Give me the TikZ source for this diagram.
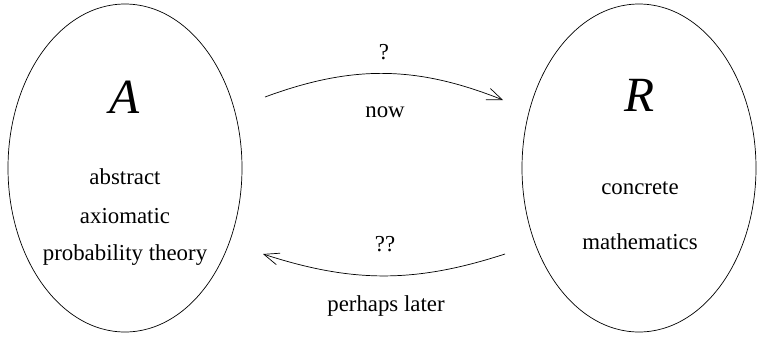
\documentclass[tikz,border=0pt]{standalone}
\usepackage{fontspec}
\setmainfont{Liberation Serif}
\usetikzlibrary{arrows.meta,shapes.geometric}

\tikzset{
    theory/.style={ellipse, draw, minimum width=4.68cm, minimum height=6.56cm, inner sep=0pt},
    letter/.style={font=\fontsize{28}{30}\selectfont\itshape},
    word/.style={font=\fontsize{13}{15}\selectfont},
    link/.style={-{Straight Barb[length=3mm,width=2.4mm]}, bend left=21}
}

\begin{document}
\begin{tikzpicture}[scale=1]
\useasboundingbox (0,0) rectangle (15.18,6.74);

% Ellipses
\node[theory] (A) at (2.5,3.38) {};
\node[theory] (R) at (12.78,3.38) {};

% Labels
\node[letter] (Aname) at (2.5,4.8) {A};
\node[letter] (Rname) at (12.8,4.84) {R};
\node[word] (abs) at (2.5,3.2) {abstract};
\node[word] (axi) at (2.5,2.42) {axiomatic};
\node[word] (prob) at (2.5,1.64) {probability theory};
\node[word] (conc) at (12.8,2.98) {concrete};
\node[word] (math) at (12.8,1.9) {mathematics};

% Arrows
\coordinate (toR) at (5.3,4.8);
\coordinate (atR) at (10.06,4.74);
\coordinate (fromR) at (10.1,1.66);
\coordinate (atA) at (5.26,1.66);
\draw[link] (toR) to (atR);
\draw[link, bend left=18] (fromR) to (atA);
\node[word] (q1) at (7.68,5.7) {?};
\node[word] (now) at (7.7,4.5) {now};
\node[word] (q2) at (7.7,1.86) {??};
\node[word] (later) at (7.72,0.62) {perhaps later};

\end{tikzpicture}
\end{document}
